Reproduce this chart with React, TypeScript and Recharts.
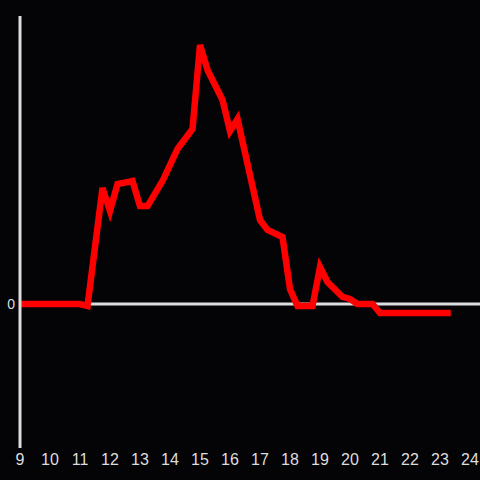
import { LineChart, Line, XAxis, YAxis, ReferenceLine } from "recharts";

// hour of day, value (arbitrary units)
const hours = [
  9, 11, 11.25, 11.75, 12, 12.25, 12.75, 13, 13.25, 13.75, 14.25, 14.75, 15, 15.25,
  15.75, 16, 16.25, 17, 17.25, 17.75, 18, 18.25, 18.75, 19, 19.25, 19.75, 20, 20.25,
  20.75, 21, 23.25,
];
const values = [
  0, 0, -1.4, 80.6, 64.6, 83.3, 85.4, 68, 68, 85.4, 107.6, 121.5, 179.9, 162.5,
  141.7, 120.1, 128.5, 58.3, 51.4, 46.5, 10.4, -1.4, -1.4, 25.7, 15.3, 4.9, 3.5, 0,
  0, -6.25, -6.25,
];
const xTicks = [9, 10, 11, 12, 13, 14, 15, 16, 17, 18, 19, 20, 21, 22, 23, 24];
const yTicks = [0];

const data = hours.map((h, i) => ({ h, v: values[i] }));

const AXIS = "#dddddd";
const FONT = "Liberation Sans, Arial, sans-serif";

export default function App() {
  return (
    <div
      style={{
        position: "fixed",
        left: 0,
        top: 0,
        width: 480,
        height: 480,
        background: "#040306",
      }}
    >
      <LineChart
        width={480}
        height={480}
        data={data}
        margin={{ top: 16, right: 0, left: 0, bottom: 0 }}
      >
        <XAxis
          dataKey="h"
          type="number"
          domain={[9, 24.3333]}
          ticks={xTicks}
          allowDataOverflow
          height={32}
          axisLine={false}
          tickLine={false}
          tickSize={4}
          tickMargin={2}
          fontSize={16}
          tick={{ fill: AXIS, fontSize: 16, fontFamily: FONT }}
        />
        <YAxis
          type="number"
          domain={[-100, 200]}
          ticks={yTicks}
          width={20}
          axisLine={{ stroke: AXIS, strokeWidth: 3 }}
          tickLine={false}
          tickSize={3}
          tickMargin={2}
          fontSize={14}
          tick={{ fill: AXIS, fontSize: 14, fontFamily: FONT }}
        />
        <ReferenceLine y={0} stroke={AXIS} strokeWidth={3} />
        <Line
          dataKey="v"
          type="linear"
          stroke="#ff0000"
          strokeWidth={6.5}
          strokeLinecap="square"
          dot={false}
          isAnimationActive={false}
        />
      </LineChart>
    </div>
  );
}
